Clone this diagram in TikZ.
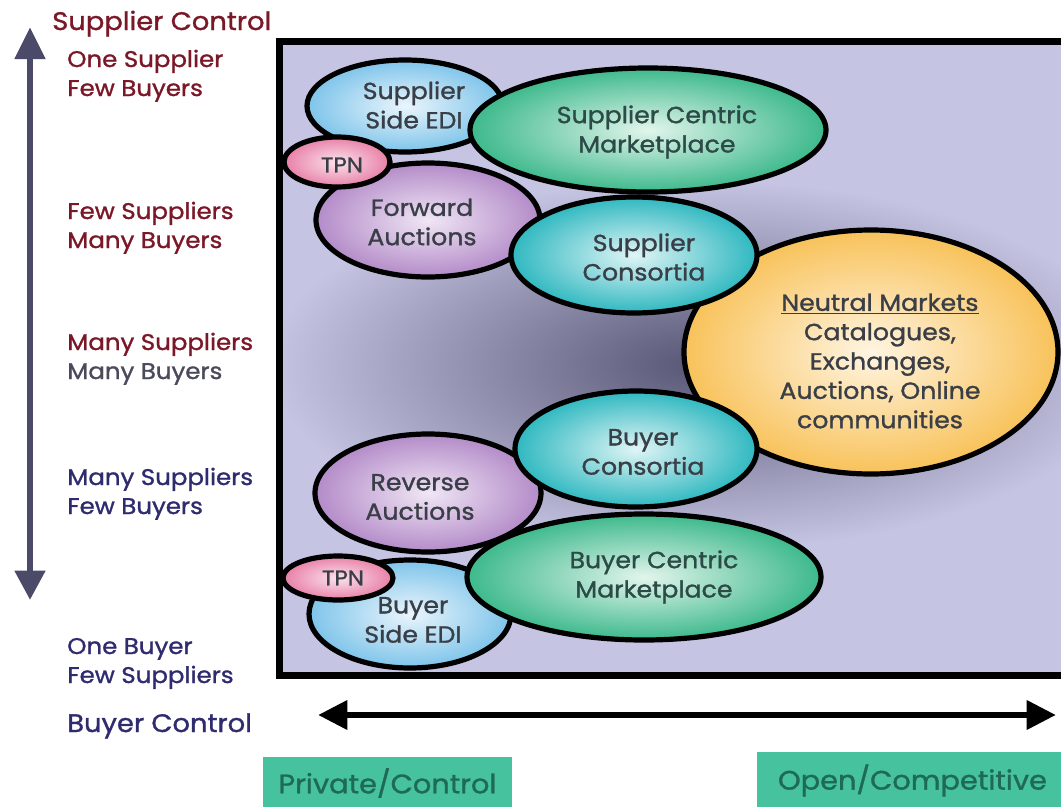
\documentclass[tikz,border=0pt]{standalone}
\usepackage{fontspec}
\setmainfont{Poppins}[FakeBold=1.2, FakeStretch=1.08]
\usetikzlibrary{shapes.geometric,arrows.meta}
\definecolor{bgl}{HTML}{C6C4E3}
\definecolor{bgd}{HTML}{575674}
\definecolor{redt}{HTML}{7A1828}
\definecolor{navyt}{HTML}{2E2C6E}
\definecolor{grayt}{HTML}{4B4A5A}
\definecolor{inkt}{HTML}{3A3E46}
\definecolor{inkg}{HTML}{2C4A46}
\definecolor{boxf}{HTML}{46C39E}
\definecolor{boxt}{HTML}{1F6A56}
\definecolor{axisc}{HTML}{4B4A68}
\definecolor{blueo}{HTML}{7EC4EA}\definecolor{bluei}{HTML}{EAF5FC}
\definecolor{greeno}{HTML}{3DB98C}\definecolor{greeni}{HTML}{E2F5EC}
\definecolor{pinko}{HTML}{E87FA6}\definecolor{pinki}{HTML}{FBE3EC}
\definecolor{purpo}{HTML}{B38BC8}\definecolor{purpi}{HTML}{F0E6F5}
\definecolor{cyano}{HTML}{2FB8C0}\definecolor{cyani}{HTML}{E0F5F6}
\definecolor{orano}{HTML}{F8C25A}\definecolor{orani}{HTML}{FFF5E2}
\tikzset{
  bubble/.style n args={4}{ellipse, draw=black, line width=3.9pt, inner sep=0pt,
    minimum width=#1pt, minimum height=#2pt, shade, inner color=#3, outer color=#4},
  intext/.style={font=\fontsize{17.5}{22}\selectfont, text=inkt, align=center},
  tpntext/.style={font=\fontsize{16}{18}\selectfont, text=inkt},
  sidelbl/.style={font=\fontsize{17}{21.75}\selectfont, anchor=base west, align=left, inner sep=0pt},
  axislbl/.style={font=\fontsize{19}{22}\selectfont, anchor=base west, inner sep=0pt},
  boxlbl/.style={rectangle, fill=boxf, text=boxt, inner sep=0pt, font=\fontsize{20}{24}\selectfont},
}
\begin{document}
\begin{tikzpicture}[x=0.75pt,y=-0.75pt]
\useasboundingbox (0,0) rectangle (1061,807);
% frame background
\fill[bgl] (279,41) rectangle (1075,675);
\begin{scope}
\clip (279,41) rectangle (1075,675);
\shade[inner color=bgd, outer color=bgl] (700,365) ellipse (430 and 185);
\end{scope}
\draw[line width=5.25pt] (1075,41) -| (279,675) -- (1075,675);

% top cluster
\node[bubble={168}{85.5}{purpi}{purpo}] (fwd) at (428,220) {};
\node[bubble={147}{69}{bluei}{blueo}] (sedi) at (405,106) {};
\node[bubble={79.5}{37.5}{pinki}{pinko}] (tpna) at (337,162) {};
\node[bubble={267}{93}{greeni}{greeno}] (scm) at (648,130) {};
\node[bubble={280.5}{183}{orani}{orano}] (neut) at (871,352) {};
\node[bubble={184.5}{87}{cyani}{cyano}] (scons) at (634,255) {};
% bottom cluster
\node[bubble={151.5}{81}{bluei}{blueo}] (bedi) at (410,614) {};
\node[bubble={82.5}{33}{pinki}{pinko}] (tpnb) at (338,578) {};
\node[bubble={265.5}{94.5}{greeni}{greeno}] (bcm) at (644,577) {};
\node[bubble={169.5}{88.5}{purpi}{purpo}] (rev) at (428,493) {};
\node[bubble={181.5}{87}{cyani}{cyano}] (bcons) at (636,449) {};

% texts in bubbles
\node[intext] (tsedi) at (414,105) {Supplier\\Side EDI};
\node[tpntext] (ttpna) at (342,165) {TPN};
\node[intext] (tfwd) at (422,222) {Forward\\Auctions};
\node[intext, text=inkg] (tscm) at (657,132) {Supplier Centric\\Marketplace};
\node[intext] (tscons) at (644,257) {Supplier\\Consortia};
\node[intext] (tneut) at (880,361) {\underline{Neutral Markets}\\Catalogues,\\Exchanges,\\Auctions, Online\\communities};
\node[intext] (tbcons) at (643,452) {Buyer\\Consortia};
\node[intext] (trev) at (420,497) {Reverse\\Auctions};
\node[intext, text=inkg] (tbcm) at (654,577) {Buyer Centric\\Marketplace};
\node[tpntext] (ttpnb) at (343,578) {TPN};
\node[intext] (tbedi) at (413,620) {Buyer\\Side EDI};

% axes
\coordinate (vtop) at (30,27);
\coordinate (vbot) at (30,600);
\draw[axisc, line width=5pt, {Triangle[length=24pt,width=22pt]}-{Triangle[length=22pt,width=22pt]}] (vtop) -- (vbot);
\coordinate (hl) at (318,715);
\coordinate (hr) at (1056,715);
\draw[black, line width=5pt, {Triangle[length=22pt,width=21pt]}-{Triangle[length=22pt,width=21pt]}] (hl) -- (hr);

% side labels
\node[axislbl, text=redt] (supc) at (52,30) {Supplier Control};
\node[sidelbl, text=redt] (l1) at (67,96) {One Supplier\\Few Buyers};
\node[sidelbl, text=redt] (l2) at (67,248) {Few Suppliers\\Many Buyers};
\node[sidelbl, text=redt] (l3a) at (67,350) {Many Suppliers};
\node[sidelbl, text=grayt] (l3b) at (67,379) {Many Buyers};
\node[sidelbl, text=navyt] (l4) at (67,514) {Many Suppliers\\Few Buyers};
\node[sidelbl, text=navyt] (l5) at (67,683) {One Buyer\\Few Suppliers};
\node[axislbl, text=navyt] (buyc) at (67,732) {Buyer Control};

% bottom boxes
\node[boxlbl, minimum width=186.75pt, minimum height=39pt] (priv) at (387.5,783) {Private/Control};
\node[boxlbl, minimum width=233.25pt, minimum height=42.75pt] (open) at (912.5,780.5) {Open/Competitive};
\end{tikzpicture}
\end{document}
